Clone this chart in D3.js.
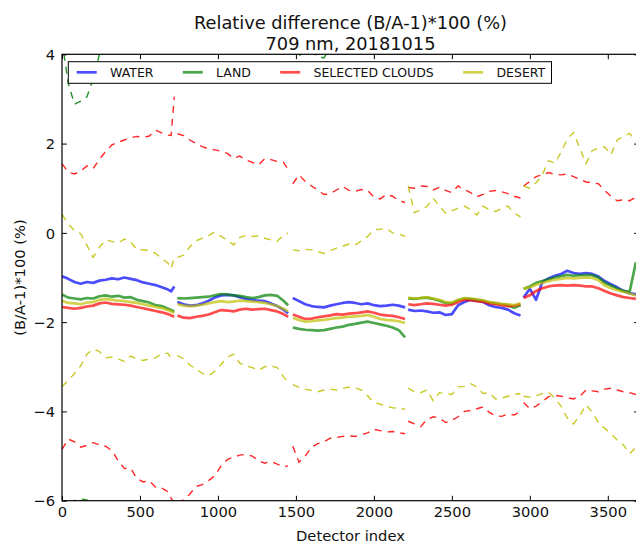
<!DOCTYPE html>
<html lang="en">
<head>
    <meta charset="UTF-8"/>
    <title>Relative difference (B/A-1)*100 (%)</title>
    <script src="https://d3js.org/d3.v7.min.js"></script>
    <style>
        body {
            margin: 0;
            background: white;
        }

        svg {
            display: block;
            font-family: "DejaVu Sans", sans-serif;
        }
    </style>
</head>
<body>
<div id="chart"></div>

<script>
    // detector index of each sample, one array per camera
    const detector = [
        [0, 40, 80, 120, 160, 200, 240, 280, 320, 360, 400, 440, 480, 520, 560, 600, 640, 680, 700, 720],
        [740, 780, 820, 860, 900, 940, 980, 1020, 1060, 1100, 1140, 1180, 1220, 1260, 1300, 1340, 1380, 1420, 1450],
        [1480, 1520, 1560, 1600, 1640, 1680, 1720, 1760, 1800, 1840, 1880, 1920, 1960, 2000, 2040, 2080, 2120, 2160, 2200],
        [2220, 2260, 2300, 2340, 2380, 2420, 2460, 2500, 2540, 2580, 2620, 2660, 2700, 2740, 2780, 2820, 2860, 2900, 2940],
        [2960, 3000, 3040, 3080, 3120, 3160, 3200, 3240, 3280, 3320, 3360, 3400, 3440, 3480, 3520, 3560, 3600, 3640, 3680]
    ];

    // mean relative difference per camera
    const waterMean = [
        [-0.97, -1.03, -1.10, -1.14, -1.10, -1.12, -1.07, -1.05, -1.02, -1.04, -1.00, -1.03, -1.06, -1.11, -1.14, -1.17, -1.22, -1.27, -1.31, -1.20],
        [-1.55, -1.60, -1.63, -1.62, -1.58, -1.52, -1.45, -1.40, -1.39, -1.40, -1.44, -1.48, -1.50, -1.52, -1.53, -1.58, -1.64, -1.72, -1.80],
        [-1.46, -1.53, -1.60, -1.64, -1.66, -1.67, -1.63, -1.60, -1.57, -1.55, -1.57, -1.60, -1.58, -1.62, -1.64, -1.63, -1.61, -1.63, -1.67],
        [-1.72, -1.75, -1.74, -1.76, -1.79, -1.78, -1.84, -1.82, -1.62, -1.55, -1.50, -1.52, -1.55, -1.62, -1.66, -1.68, -1.72, -1.80, -1.85],
        [-1.45, -1.25, -1.50, -1.10, -1.02, -0.96, -0.92, -0.85, -0.90, -0.92, -0.90, -0.92, -0.98, -1.08, -1.15, -1.22, -1.30, -1.35, -1.38]
    ];
    const landMean = [
        [-1.38, -1.45, -1.47, -1.49, -1.46, -1.47, -1.42, -1.40, -1.43, -1.41, -1.45, -1.44, -1.50, -1.53, -1.56, -1.62, -1.64, -1.70, -1.73, -1.76],
        [-1.46, -1.47, -1.46, -1.45, -1.44, -1.43, -1.40, -1.37, -1.38, -1.40, -1.41, -1.44, -1.46, -1.44, -1.40, -1.39, -1.41, -1.52, -1.62],
        [-2.12, -2.15, -2.17, -2.18, -2.19, -2.18, -2.15, -2.12, -2.10, -2.06, -2.04, -2.01, -1.99, -2.02, -2.05, -2.08, -2.12, -2.18, -2.34],
        [-1.47, -1.48, -1.46, -1.45, -1.48, -1.52, -1.57, -1.58, -1.51, -1.47, -1.48, -1.50, -1.52, -1.56, -1.58, -1.60, -1.62, -1.68, -1.62],
        [-1.25, -1.20, -1.12, -1.08, -1.04, -1.00, -0.97, -0.94, -0.96, -0.95, -0.94, -0.95, -1.00, -1.12, -1.18, -1.25, -1.30, -1.32, -0.66]
    ];
    const cloudsMean = [
        [-1.66, -1.68, -1.70, -1.68, -1.65, -1.63, -1.58, -1.56, -1.59, -1.60, -1.61, -1.63, -1.66, -1.69, -1.72, -1.75, -1.78, -1.82, -1.85, -1.88],
        [-1.85, -1.90, -1.91, -1.88, -1.86, -1.83, -1.78, -1.73, -1.74, -1.76, -1.72, -1.70, -1.72, -1.71, -1.70, -1.73, -1.76, -1.82, -1.88],
        [-1.83, -1.88, -1.93, -1.92, -1.89, -1.87, -1.85, -1.82, -1.83, -1.81, -1.80, -1.78, -1.76, -1.79, -1.83, -1.85, -1.86, -1.89, -1.93],
        [-1.60, -1.62, -1.60, -1.58, -1.59, -1.61, -1.63, -1.61, -1.55, -1.50, -1.51, -1.53, -1.54, -1.58, -1.60, -1.62, -1.64, -1.63, -1.60],
        [-1.46, -1.40, -1.30, -1.24, -1.20, -1.18, -1.17, -1.18, -1.17, -1.18, -1.20, -1.20, -1.24, -1.30, -1.36, -1.40, -1.44, -1.46, -1.48]
    ];
    const desertMean = [
        [-1.52, -1.57, -1.58, -1.60, -1.56, -1.55, -1.50, -1.48, -1.50, -1.52, -1.53, -1.55, -1.57, -1.60, -1.63, -1.66, -1.69, -1.73, -1.76, -1.79],
        [-1.60, -1.63, -1.64, -1.63, -1.61, -1.58, -1.55, -1.53, -1.55, -1.54, -1.52, -1.53, -1.54, -1.55, -1.57, -1.60, -1.64, -1.70, -1.76],
        [-1.90, -1.95, -1.99, -1.98, -1.96, -1.95, -1.93, -1.91, -1.90, -1.88, -1.87, -1.86, -1.84, -1.88, -1.93, -1.95, -1.96, -1.98, -2.02],
        [-1.45, -1.47, -1.46, -1.44, -1.47, -1.50, -1.55, -1.56, -1.50, -1.46, -1.47, -1.49, -1.51, -1.55, -1.57, -1.59, -1.60, -1.62, -1.58],
        [-1.25, -1.22, -1.16, -1.12, -1.08, -1.05, -1.03, -1.01, -1.02, -1.01, -1.00, -1.01, -1.06, -1.18, -1.24, -1.28, -1.32, -1.36, -1.40]
    ];

    // mean + std and mean - std (dashed)
    const landUpper = [
        [4.30, 3.35, 2.88, 2.95, 3.05, 3.45, 4.00, 4.40, 4.55, 4.60, 4.70, 4.65, 4.70, 4.75, 4.70, 4.80, 4.75, 4.70, 4.80, 4.70],
        [4.60, 4.70, 4.80, 4.70, 4.80, 4.85, 4.80, 4.75, 4.80, 4.70, 4.75, 4.70, 4.60, 4.65, 4.60, 4.55, 4.60, 4.50, 4.45],
        [4.20, 3.96, 4.10, 4.05, 3.95, 3.92, 4.15, 4.30, 4.40, 4.45, 4.50, 4.50, 4.45, 4.50, 4.55, 4.50, 4.45, 4.50, 4.55],
        [4.45, 4.50, 4.55, 4.50, 4.45, 4.50, 4.55, 4.60, 4.55, 4.50, 4.50, 4.55, 4.60, 4.55, 4.50, 4.55, 4.60, 4.55, 4.50],
        [4.40, 4.50, 4.60, 4.70, 4.75, 4.80, 4.85, 4.90, 4.85, 4.80, 4.85, 4.80, 4.75, 4.70, 4.65, 4.60, 4.60, 4.55, 4.70]
    ];
    const landLower = [
        [-6.30, -6.12, -6.00, -5.96, -5.98, -6.20, -6.45, -6.60, -6.70, -6.75, -6.80, -6.85, -6.90, -6.95, -7.00, -7.05, -7.10, -7.10, -7.15, -7.20],
        [-7.2, -7.1, -7.0, -6.9, -6.9, -6.8, -6.8, -6.7, -6.7, -6.7, -6.8, -6.8, -6.9, -6.9, -7.0, -7.0, -7.1, -7.1, -7.2],
        [-7.6, -7.7, -7.8, -7.8, -7.9, -7.9, -7.8, -7.8, -7.7, -7.7, -7.6, -7.6, -7.6, -7.7, -7.7, -7.8, -7.8, -7.9, -8.0],
        [-7.4, -7.4, -7.3, -7.3, -7.4, -7.4, -7.5, -7.5, -7.4, -7.3, -7.3, -7.3, -7.4, -7.4, -7.5, -7.5, -7.5, -7.6, -7.6],
        [-6.9, -6.8, -6.7, -6.6, -6.5, -6.5, -6.4, -6.4, -6.4, -6.4, -6.4, -6.5, -6.5, -6.6, -6.7, -6.8, -6.9, -7.0, -6.6]
    ];
    const cloudsUpper = [
        [1.55, 1.36, 1.32, 1.38, 1.50, 1.44, 1.65, 1.82, 1.97, 2.03, 2.08, 2.13, 2.16, 2.14, 2.17, 2.30, 2.24, 2.19, 2.18, 3.05],
        [2.22, 2.18, 2.08, 2.00, 1.93, 1.88, 1.86, 1.83, 1.78, 1.67, 1.72, 1.63, 1.58, 1.52, 1.66, 1.64, 1.60, 1.58, 1.42],
        [1.10, 1.30, 1.15, 1.05, 0.96, 0.86, 0.88, 0.96, 1.04, 0.95, 0.93, 0.97, 0.95, 0.80, 0.76, 0.86, 0.82, 0.72, 0.68],
        [1.02, 1.00, 1.05, 1.04, 0.96, 1.02, 0.95, 0.90, 1.05, 0.97, 0.90, 0.81, 0.86, 0.93, 0.95, 0.92, 0.88, 0.82, 0.78],
        [1.05, 1.15, 1.26, 1.30, 1.35, 1.31, 1.30, 1.32, 1.26, 1.20, 1.14, 1.12, 1.10, 0.95, 0.82, 0.72, 0.74, 0.72, 0.80]
    ];
    const cloudsLower = [
        [-4.85, -4.62, -4.68, -4.80, -4.76, -4.70, -4.75, -4.78, -4.88, -5.10, -5.28, -5.27, -5.50, -5.58, -5.55, -5.70, -5.72, -5.80, -5.95, -6.05],
        [-6.05, -5.98, -5.85, -5.68, -5.64, -5.55, -5.44, -5.22, -5.08, -5.02, -4.98, -4.96, -5.00, -5.10, -5.16, -5.12, -5.18, -5.24, -5.22],
        [-4.78, -5.14, -5.00, -4.80, -4.72, -4.68, -4.60, -4.58, -4.56, -4.55, -4.56, -4.52, -4.48, -4.40, -4.43, -4.46, -4.45, -4.48, -4.50],
        [-4.22, -4.28, -4.34, -4.18, -4.12, -4.15, -4.25, -4.20, -4.12, -4.00, -3.98, -3.94, -3.90, -4.02, -4.10, -4.11, -4.06, -4.08, -4.00],
        [-3.80, -3.94, -3.88, -3.78, -3.67, -3.64, -3.66, -3.69, -3.72, -3.66, -3.52, -3.54, -3.56, -3.50, -3.48, -3.52, -3.56, -3.58, -3.62]
    ];
    const desertUpper = [
        [0.42, 0.20, 0.05, -0.02, -0.28, -0.55, -0.32, -0.16, -0.19, -0.23, -0.14, -0.20, -0.38, -0.38, -0.40, -0.46, -0.58, -0.68, -0.80, -0.55],
        [-0.55, -0.50, -0.31, -0.18, -0.12, -0.06, 0.02, -0.08, -0.16, -0.27, -0.10, -0.06, -0.08, -0.07, -0.12, -0.16, -0.19, -0.05, 0.00],
        [-0.38, -0.40, -0.37, -0.38, -0.42, -0.46, -0.40, -0.34, -0.30, -0.25, -0.27, -0.18, -0.08, 0.07, 0.08, 0.10, 0.00, -0.02, -0.08],
        [1.05, 0.45, 0.52, 0.59, 0.78, 0.60, 0.44, 0.50, 0.55, 0.60, 0.52, 0.40, 0.60, 0.52, 0.48, 0.55, 0.60, 0.44, 0.36],
        [1.05, 1.00, 1.12, 1.30, 1.62, 1.56, 1.80, 2.10, 2.25, 1.90, 1.55, 1.84, 1.90, 1.93, 1.75, 2.08, 2.16, 2.23, 2.05]
    ];
    const desertLower = [
        [-3.45, -3.30, -3.15, -2.98, -2.72, -2.60, -2.66, -2.80, -2.78, -2.82, -2.88, -2.76, -2.82, -2.86, -2.82, -2.80, -2.70, -2.70, -2.82, -2.80],
        [-2.75, -2.82, -2.96, -3.05, -3.15, -3.20, -3.10, -2.95, -2.78, -2.72, -2.92, -2.98, -3.02, -3.08, -3.00, -2.98, -3.02, -3.22, -3.35],
        [-3.40, -3.46, -3.50, -3.53, -3.56, -3.52, -3.50, -3.52, -3.48, -3.46, -3.47, -3.52, -3.65, -3.80, -3.84, -3.88, -3.92, -3.93, -3.95],
        [-3.48, -3.56, -3.58, -3.52, -3.76, -3.58, -3.60, -3.62, -3.45, -3.44, -3.38, -3.45, -3.60, -3.58, -3.72, -3.70, -3.66, -3.62, -3.60],
        [-3.66, -3.68, -3.65, -3.60, -3.57, -3.70, -3.88, -4.15, -4.28, -4.10, -3.85, -4.02, -4.25, -4.38, -4.50, -4.64, -4.75, -4.95, -4.80]
    ];

    const legendLabels = ["WATER", "LAND", "SELECTED CLOUDS", "DESERT"];
    const xTicks = [0, 500, 1000, 1500, 2000, 2500, 3000, 3500];
    const yTicks = [-6, -4, -2, 0, 2, 4];

    const width = 636;
    const height = 543;
    const margin = {top: 54.3, right: -3, bottom: 42.3, left: 62};
    const gW = width - margin.left - margin.right;
    const gH = height - margin.top - margin.bottom;

    const colors = {WATER: "#0000ff", LAND: "#008000", "SELECTED CLOUDS": "#ff0000", DESERT: "#bfbf00"};

    const solidSeries = [
        {name: "WATER", values: waterMean},
        {name: "LAND", values: landMean},
        {name: "SELECTED CLOUDS", values: cloudsMean},
        {name: "DESERT", values: desertMean}
    ];
    const dashedSeries = [
        {name: "LAND", values: landUpper},
        {name: "LAND", values: landLower},
        {name: "SELECTED CLOUDS", values: cloudsUpper},
        {name: "SELECTED CLOUDS", values: cloudsLower},
        {name: "DESERT", values: desertUpper},
        {name: "DESERT", values: desertLower}
    ];

    const svg = d3.select("#chart")
        .append("svg")
        .attr("width", width)
        .attr("height", height);

    svg.append("defs")
        .append("clipPath")
        .attr("id", "plotClip")
        .append("rect")
        .attr("width", gW)
        .attr("height", gH);

    const g = svg.append("g").attr("transform", `translate(${margin.left}, ${margin.top})`);

    const xScale = d3.scaleLinear().domain([0, 3700]).range([0, gW]);
    const yScale = d3.scaleLinear().domain([-6, 4]).range([gH, 0]);
    const fmt = d => String(d).replace("-", "\u2212");

    // lines
    const line = d3.line()
        .x(d => xScale(d[0]))
        .y(d => yScale(d[1]));

    const plot = g.append("g").attr("clip-path", "url(#plotClip)");

    solidSeries.forEach(s => {
        s.values.forEach((vals, i) => {
            plot.append("path")
                .attr("d", line(vals.map((v, j) => [detector[i][j], v])))
                .attr("fill", "none")
                .attr("stroke", colors[s.name])
                .attr("stroke-opacity", 0.7)
                .attr("stroke-width", 2.7)
                .attr("stroke-linejoin", "round");
        });
    });

    dashedSeries.forEach(s => {
        s.values.forEach((vals, i) => {
            plot.append("path")
                .attr("d", line(vals.map((v, j) => [detector[i][j], v])))
                .attr("fill", "none")
                .attr("stroke", colors[s.name])
                .attr("stroke-opacity", 0.85)
                .attr("stroke-width", 1.4)
                .attr("stroke-dasharray", "7,6");
        });
    });

    // axes, ticks pointing inward on all four sides
    const tickLen = 4.9;
    const xAxis = g.append("g")
        .attr("transform", `translate(0, ${gH})`)
        .call(d3.axisBottom(xScale).tickValues(xTicks).tickSizeInner(-tickLen).tickSizeOuter(0).tickPadding(6).tickFormat(fmt));
    g.append("g")
        .call(d3.axisTop(xScale).tickValues(xTicks).tickSizeInner(-tickLen).tickSizeOuter(0).tickFormat(""));
    const yAxis = g.append("g")
        .call(d3.axisLeft(yScale).tickValues(yTicks).tickSizeInner(-tickLen).tickSizeOuter(0).tickPadding(7).tickFormat(fmt));
    g.append("g")
        .attr("transform", `translate(${gW}, 0)`)
        .call(d3.axisRight(yScale).tickValues(yTicks).tickSizeInner(-tickLen).tickSizeOuter(0).tickFormat(""));

    g.selectAll(".domain").remove();
    g.selectAll(".tick line").attr("stroke", "black").attr("stroke-width", 1);
    g.selectAll(".tick text")
        .style("font-family", "DejaVu Sans")
        .style("font-size", "14.7px")
        .attr("fill", "#111");
    xAxis.selectAll(".tick text").attr("dy", "0.72em");
    yAxis.selectAll(".tick text").attr("dy", "0.36em");

    // spines
    g.append("rect")
        .attr("width", gW)
        .attr("height", gH)
        .attr("fill", "none")
        .attr("stroke", "black")
        .attr("stroke-width", 1.2);

    // legend
    const legend = g.append("g").attr("transform", "translate(6.3, 7.4)");
    const legendBox = legend.append("rect")
        .attr("height", 21.6)
        .attr("fill", "white")
        .attr("stroke", "black")
        .attr("stroke-width", 1);
    let lx = 8.4;
    legendLabels.forEach(name => {
        legend.append("line")
            .attr("x1", lx)
            .attr("x2", lx + 20)
            .attr("y1", 10.6)
            .attr("y2", 10.6)
            .attr("stroke", colors[name])
            .attr("stroke-opacity", 0.7)
            .attr("stroke-width", 2.7);
        const t = legend.append("text")
            .attr("x", lx + 33.3)
            .attr("y", 15.1)
            .style("font-size", "12.5px")
            .attr("fill", "#111")
            .text(name);
        lx = lx + 33.3 + t.node().getComputedTextLength() + 29.3;
    });
    legendBox.attr("width", lx - 29.3 + 6.3);

    // title
    svg.append("text")
        .attr("x", margin.left + gW / 2)
        .attr("y", 28.5)
        .attr("text-anchor", "middle")
        .style("font-size", "17.8px")
        .attr("fill", "#111")
        .text("Relative difference (B/A-1)*100 (%)");
    svg.append("text")
        .attr("x", margin.left + gW / 2)
        .attr("y", 49.5)
        .attr("text-anchor", "middle")
        .style("font-size", "17.8px")
        .attr("fill", "#111")
        .text("709 nm, 20181015");

    // axis labels
    svg.append("text")
        .attr("x", margin.left + gW / 2)
        .attr("y", 541)
        .attr("text-anchor", "middle")
        .style("font-size", "14.7px")
        .attr("fill", "#111")
        .text("Detector index");
    svg.append("text")
        .attr("transform", `translate(25, ${margin.top + gH / 2}) rotate(-90)`)
        .attr("text-anchor", "middle")
        .style("font-size", "14.7px")
        .attr("fill", "#111")
        .text("(B/A-1)*100 (%)");
</script>
</body>
</html>
